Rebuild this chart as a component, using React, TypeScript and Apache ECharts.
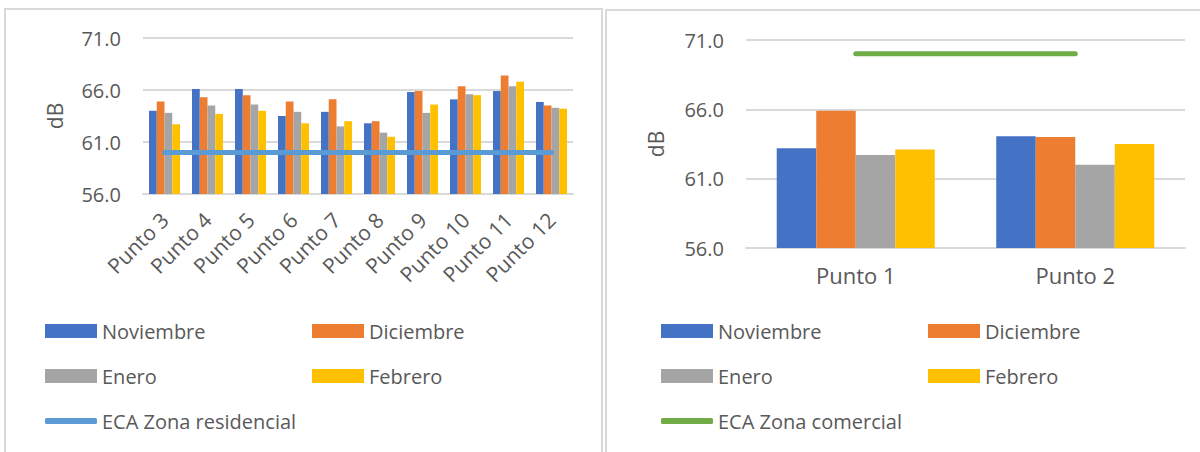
import React, { useEffect, useRef } from "react";
import * as echarts from "echarts";

const leftCategories = ["Punto 3", "Punto 4", "Punto 5", "Punto 6", "Punto 7", "Punto 8", "Punto 9", "Punto 10", "Punto 11", "Punto 12"];
const leftNoviembre = [64.0, 66.1, 66.1, 63.5, 63.9, 62.8, 65.8, 65.1, 65.9, 64.85];
const leftDiciembre = [64.9, 65.3, 65.5, 64.9, 65.1, 63.0, 65.9, 66.35, 67.4, 64.5];
const leftEnero = [63.8, 64.5, 64.6, 63.9, 62.5, 61.9, 63.8, 65.6, 66.35, 64.3];
const leftFebrero = [62.7, 63.7, 64.0, 62.8, 63.0, 61.5, 64.6, 65.5, 66.8, 64.2];
const ecaResidencial = [60, 60, 60, 60, 60, 60, 60, 60, 60, 60];

const rightCategories = ["Punto 1", "Punto 2"];
const rightNoviembre = [63.2, 64.05];
const rightDiciembre = [65.9, 64.0];
const rightEnero = [62.7, 62.0];
const rightFebrero = [63.1, 63.5];
const ecaComercial = [70, 70];

const yMin = 56;
const yMax = 71;
const yStep = 5;

const monthNames = ["Noviembre", "Diciembre", "Enero", "Febrero"];
const monthColors = ["#4472C4", "#ED7D31", "#A5A5A5", "#FFC000"];

const FONT = "'Open Sans', 'Noto Sans', sans-serif";
const TEXT = "#595959";
const GRID = "#D9D9D9";

export default function App() {
  const ref = useRef<HTMLDivElement>(null);

  useEffect(() => {
    if (!ref.current) return;
    const chart = echarts.init(ref.current, undefined, { renderer: "svg" });

    const yAxisBase = (gridIndex: number, nameGap: number) => ({
      type: "value",
      gridIndex,
      min: yMin,
      max: yMax,
      interval: yStep,
      name: "dB",
      nameLocation: "middle",
      nameRotate: 90,
      nameGap,
      nameTextStyle: { color: TEXT, fontSize: 21, fontFamily: FONT },
      axisLine: { show: false },
      axisTick: { show: false },
      axisLabel: {
        color: TEXT,
        fontSize: 20,
        fontFamily: FONT,
        margin: 22,
        formatter: (v: number) => v.toFixed(1),
      },
      splitLine: { lineStyle: { color: GRID, width: 2 } },
    });

    const barSeries = (data: number[][], axis: number) =>
      data.map((d, i) => ({
        type: "bar",
        name: monthNames[i],
        xAxisIndex: axis,
        yAxisIndex: axis,
        data: d,
        barGap: "0%",
        barCategoryGap: "28%",
        itemStyle: { color: monthColors[i] },
      }));

    const legendItem = (name: string, left: number, centerY: number, line: boolean) => ({
      data: [name],
      left,
      top: centerY - 12,
      padding: 0,
      orient: "horizontal",
      icon: line ? "roundRect" : "rect",
      itemWidth: 52,
      itemHeight: line ? 6 : 14,
      selectedMode: false,
      textStyle: { color: TEXT, fontSize: 20, fontFamily: FONT, padding: [0, 0, 0, 0] },
    });

    const legends: any[] = [];
    const rows = [333, 378, 423];
    [45, 661].forEach((x0, side) => {
      legends.push(legendItem("Noviembre", x0, rows[0], false));
      legends.push(legendItem("Diciembre", x0 + 267, rows[0], false));
      legends.push(legendItem("Enero", x0, rows[1], false));
      legends.push(legendItem("Febrero", x0 + 267, rows[1], false));
      legends.push(legendItem(side === 0 ? "ECA Zona residencial" : "ECA Zona comercial", x0, rows[2], true));
    });

    chart.setOption({
      animation: false,
      backgroundColor: "#ffffff",
      textStyle: { fontFamily: FONT },
      graphic: [
        {
          type: "rect",
          shape: { x: 5, y: 9, width: 597, height: 460 },
          style: { fill: "none", stroke: "#D9D9D9", lineWidth: 2 },
          silent: true,
        },
        {
          type: "rect",
          shape: { x: 606, y: 10, width: 620, height: 460 },
          style: { fill: "none", stroke: "#D9D9D9", lineWidth: 2 },
          silent: true,
        },
      ],
      legend: legends,
      grid: [
        { left: 143, top: 38, width: 430, height: 156 },
        { left: 746, top: 40, width: 439, height: 208 },
      ],
      xAxis: [
        {
          type: "category",
          gridIndex: 0,
          data: leftCategories,
          axisLine: { show: true, lineStyle: { color: GRID, width: 2 } },
          axisTick: { show: false },
          axisLabel: { color: TEXT, fontSize: 21, fontFamily: FONT, rotate: 45, margin: 22, interval: 0 },
        },
        {
          type: "category",
          gridIndex: 1,
          data: rightCategories,
          axisLine: { show: true, lineStyle: { color: GRID, width: 2 } },
          axisTick: { show: false },
          axisLabel: { color: TEXT, fontSize: 22, fontFamily: FONT, margin: 16, interval: 0 },
        },
      ],
      yAxis: [yAxisBase(0, 78), yAxisBase(1, 80)],
      series: [
        ...barSeries([leftNoviembre, leftDiciembre, leftEnero, leftFebrero], 0),
        {
          type: "line",
          name: "ECA Zona residencial",
          xAxisIndex: 0,
          yAxisIndex: 0,
          data: ecaResidencial,
          symbol: "none",
          z: 5,
          itemStyle: { color: "#5B9BD5" },
          lineStyle: { color: "#5B9BD5", width: 5, cap: "round" },
        },
        ...barSeries([rightNoviembre, rightDiciembre, rightEnero, rightFebrero], 1),
        {
          type: "line",
          name: "ECA Zona comercial",
          xAxisIndex: 1,
          yAxisIndex: 1,
          data: ecaComercial,
          symbol: "none",
          z: 5,
          itemStyle: { color: "#70AD47" },
          lineStyle: { color: "#70AD47", width: 5, cap: "round" },
        },
      ],
    });

    return () => chart.dispose();
  }, []);

  return <div ref={ref} style={{ position: "fixed", left: 0, top: 0, width: 1200, height: 452 }} />;
}
